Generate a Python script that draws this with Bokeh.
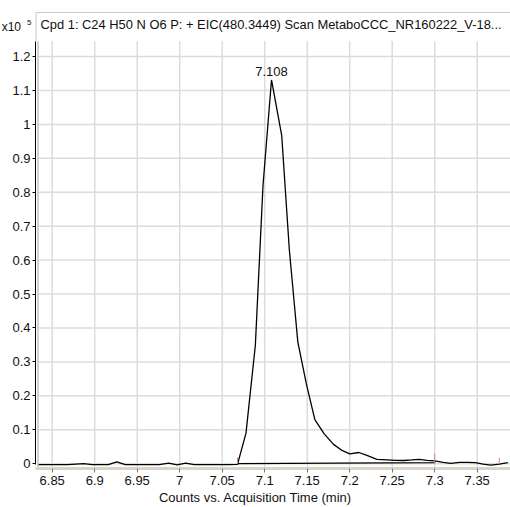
from bokeh.plotting import figure
from bokeh.models import FixedTicker, Label, Range1d, LinearAxis
from bokeh.embed import file_html
from bokeh.resources import INLINE

# ---- texts ----
title_text = "Cpd 1: C24 H50 N O6 P: + EIC(480.3449) Scan MetaboCCC_NR160222_V-18..."
x_axis_title = "Counts vs. Acquisition Time (min)"
scale_base = "x10"
scale_exp = "5"

# ---- ticks ----
x_ticks = [6.85, 6.9, 6.95, 7.0, 7.05, 7.1, 7.15, 7.2, 7.25, 7.3, 7.35]
x_tick_labels = ["6.85", "6.9", "6.95", "7", "7.05", "7.1", "7.15", "7.2", "7.25", "7.3", "7.35"]
y_ticks = [0.0, 0.1, 0.2, 0.3, 0.4, 0.5, 0.6, 0.7, 0.8, 0.9, 1.0, 1.1, 1.2]
y_tick_labels = ["0", "0.1", "0.2", "0.3", "0.4", "0.5", "0.6", "0.7", "0.8", "0.9", "1", "1.1", "1.2"]

# ---- EIC trace (counts in units of 1e5) ----
time_min = [6.834, 6.848, 6.858, 6.868, 6.878, 6.887, 6.897, 6.907, 6.916,
            6.926, 6.936, 6.946, 6.956, 6.966, 6.976, 6.987, 6.997, 7.007, 7.017,
            7.027, 7.037, 7.047, 7.058, 7.068, 7.078, 7.089, 7.098, 7.108, 7.120,
            7.129, 7.139, 7.149, 7.159, 7.170, 7.181, 7.191, 7.200, 7.211, 7.221,
            7.232, 7.244, 7.254, 7.264, 7.273, 7.282, 7.291, 7.300, 7.310, 7.319,
            7.329, 7.338, 7.348, 7.357, 7.366, 7.376, 7.386]
counts = [-0.003, -0.003, -0.003, -0.003, -0.001, 0.000, -0.003, -0.003, -0.003,
          0.0056, -0.003, -0.003, -0.003, -0.003, -0.003, 0.0015, -0.0032, 0.0015, -0.003,
          -0.003, -0.003, -0.003, -0.003, -0.002, 0.090, 0.349, 0.820, 1.131, 0.968,
          0.630, 0.358, 0.235, 0.130, 0.088, 0.057, 0.039, 0.029, 0.033, 0.024,
          0.013, 0.0115, 0.010, 0.0095, 0.011, 0.013, 0.010, 0.0085, 0.004, 0.001,
          0.004, 0.004, 0.003, -0.001, -0.004, -0.001, 0.003]

# ---- peak annotation ----
peak_time = [7.108]
peak_count = [1.131]
peak_label = ["7.108"]

# ---- integration baseline and markers ----
baseline_time = [7.068, 7.300, 7.300]
baseline_count = [0.0, 0.003, 0.0085]
marker_time = [7.068, 7.300, 7.376]
marker_base = [0.0, 0.0, 0.0]
marker_top = [0.018, 0.030, 0.018]

# ---- layout (styling constants) ----
PX_X = 850.0      # pixels per minute
PX_Y = 339.3      # pixels per 1e5 counts
X_START = 6.85 - 51.7 / PX_X
X_END = X_START + 510 / PX_X
AXIS_X = X_START + 35 / PX_X
BEIGE_X = X_START + 37.5 / PX_X
Y_START = -(468 - 463.2) / PX_Y
Y_END = 463.2 / PX_Y
BOX_TOP = (463.2 - 12) / PX_Y
GRID_TOP = (463.2 - 40.5) / PX_Y
FONT = "Liberation Sans"
GRID_COLOR = "#dcdcdc"

p = figure(width=510, height=507, output_backend="svg", toolbar_location=None,
           title=None, y_axis_location=None,
           x_range=Range1d(X_START, X_END), y_range=Range1d(Y_START, Y_END),
           min_border_left=0, min_border_right=0, min_border_top=0, min_border_bottom=39)
p.background_fill_color = "white"
p.border_fill_color = "white"
p.outline_line_color = None
p.xgrid.visible = False
p.ygrid.visible = False

# grid lines
p.segment(x0=x_ticks, y0=[Y_START] * len(x_ticks), x1=x_ticks, y1=[GRID_TOP] * len(x_ticks),
          line_color=GRID_COLOR, line_width=1.5)
p.segment(x0=[BEIGE_X] * len(y_ticks), y0=y_ticks, x1=[X_END] * len(y_ticks), y1=y_ticks,
          line_color=GRID_COLOR, line_width=1.5)

# title box lines
p.segment(x0=[AXIS_X + 0.6 / PX_X], y0=[BOX_TOP], x1=[X_END], y1=[BOX_TOP],
          line_color="#c9c9c9", line_width=1)
p.segment(x0=[AXIS_X + 0.6 / PX_X], y0=[GRID_TOP], x1=[AXIS_X + 0.6 / PX_X], y1=[BOX_TOP],
          line_color="#c9c9c9", line_width=1)
p.segment(x0=[BEIGE_X], y0=[Y_START], x1=[BEIGE_X], y1=[GRID_TOP],
          line_color="#d8d4ca", line_width=2)

# x axis
xa = p.xaxis[0]
xa.ticker = FixedTicker(ticks=x_ticks)
xa.major_label_overrides = {t: s for t, s in zip(x_ticks, x_tick_labels)}
xa.bounds = (AXIS_X, X_END)
xa.axis_line_color = "#d8d4ca"
xa.axis_line_width = 3
xa.major_tick_line_color = "#777777"
xa.major_tick_out = 4
xa.major_tick_in = 0
xa.minor_tick_line_color = None
xa.major_label_standoff = 3
xa.major_label_text_font = FONT
xa.major_label_text_font_size = "13px"
xa.major_label_text_color = "#111111"
xa.axis_label = x_axis_title
xa.axis_label_standoff = 2
xa.axis_label_text_font = FONT
xa.axis_label_text_font_size = "13px"
xa.axis_label_text_font_style = "normal"
xa.axis_label_text_color = "#111111"

# y axis at a fixed location inside the frame
ya = LinearAxis(fixed_location=AXIS_X)
ya.ticker = FixedTicker(ticks=y_ticks)
ya.major_label_overrides = {t: s for t, s in zip(y_ticks, y_tick_labels)}
ya.axis_line_color = "black"
ya.axis_line_width = 1
ya.bounds = (-0.003, GRID_TOP)
ya.major_tick_line_color = "black"
ya.major_tick_out = 3
ya.major_tick_in = 0
ya.minor_tick_line_color = None
ya.major_label_standoff = 2
ya.major_label_text_font = FONT
ya.major_label_text_font_size = "13px"
ya.major_label_text_color = "#111111"
p.add_layout(ya, "left")

# data
p.line(time_min, counts, line_color="black", line_width=1.3)
p.line(baseline_time, baseline_count, line_color="black", line_width=1.3)
p.segment(x0=marker_time, y0=marker_base, x1=marker_time, y1=marker_top,
          line_color="#d08a8a", line_width=1)

# annotations
p.add_layout(Label(x=peak_time[0], y=peak_count[0], text=peak_label[0], text_align="center",
                   text_baseline="bottom", y_offset=4, text_font=FONT,
                   text_font_size="13px", text_color="#111111"))
p.add_layout(Label(x=X_START + 40 / PX_X, y=(463.2 - 23.5) / PX_Y, text=title_text,
                   text_align="left", text_baseline="middle", text_font=FONT,
                   text_font_size="12.9px", text_color="#111111"))
p.add_layout(Label(x=X_START + 20.5 / PX_X, y=(463.2 - 26) / PX_Y, text=scale_base,
                   text_align="right", text_baseline="middle", text_font=FONT,
                   text_font_size="12px", text_color="#111111"))
p.add_layout(Label(x=X_START + 26.5 / PX_X, y=(463.2 - 22) / PX_Y, text=scale_exp,
                   text_align="left", text_baseline="middle", text_font=FONT,
                   text_font_size="8px", text_color="#111111"))

open("out.html", "w").write(file_html(p, INLINE))
